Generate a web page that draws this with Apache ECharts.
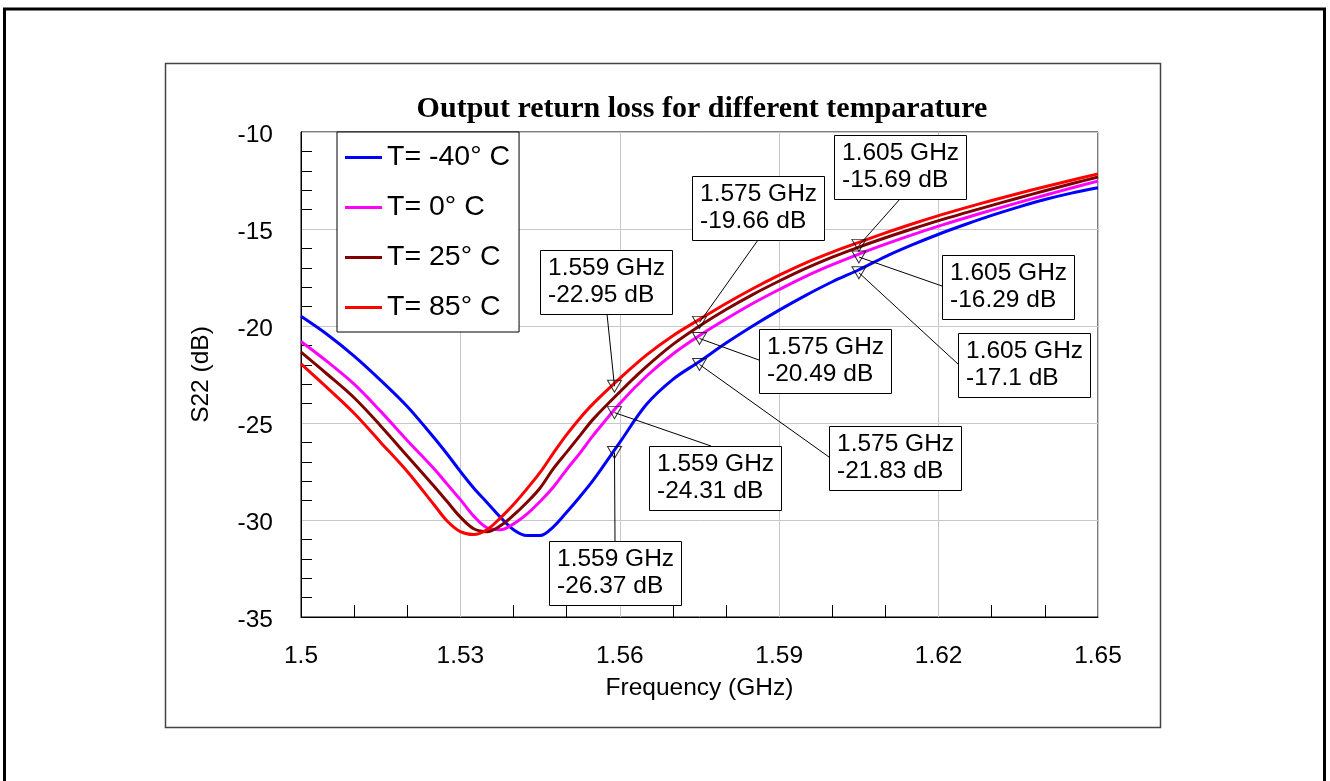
<!DOCTYPE html>
<html><head><meta charset="utf-8">
<script src="https://cdn.jsdelivr.net/npm/echarts@6/dist/echarts.min.js"></script>
<style>html,body{margin:0;padding:0;background:#fff}#c{width:1330px;height:781px}</style>
</head><body><div id="c"></div>
<script>
// ---------- data ----------
const freq = [1.500,1.505,1.510,1.515,1.520,1.525,1.5275,1.530,1.5325,1.535,1.5375,1.540,1.5425,1.545,1.5475,1.550,1.5525,1.555,1.560,1.565,1.570,1.575,1.580,1.585,1.590,1.595,1.600,1.605,1.610,1.615,1.620,1.625,1.630,1.635,1.640,1.645,1.650];
const sM40 = [-19.5,-20.45,-21.55,-22.8,-24.15,-25.75,-26.6,-27.5,-28.35,-29.1,-29.85,-30.5,-30.8,-30.8,-30.35,-29.6,-28.8,-27.95,-26.0,-24.05,-22.75,-21.83,-20.88,-20.0,-19.18,-18.42,-17.72,-17.1,-16.42,-15.82,-15.27,-14.77,-14.3,-13.87,-13.48,-13.15,-12.87];
const s0 = [-20.8,-21.85,-23.0,-24.4,-25.9,-27.35,-28.15,-28.95,-29.8,-30.4,-30.5,-30.2,-29.7,-29.05,-28.3,-27.4,-26.55,-25.64,-23.99,-22.59,-21.44,-20.49,-19.64,-18.84,-18.12,-17.44,-16.84,-16.29,-15.78,-15.3,-14.85,-14.43,-14.03,-13.64,-13.26,-12.89,-12.53];
const s25 = [-21.35,-22.5,-23.7,-25.15,-26.7,-28.25,-29.05,-29.85,-30.45,-30.6,-30.3,-29.75,-29.1,-28.35,-27.35,-26.5,-25.65,-24.8,-23.4,-22.1,-20.95,-20.0,-19.15,-18.38,-17.68,-17.03,-16.45,-15.93,-15.45,-15.0,-14.57,-14.17,-13.78,-13.4,-13.03,-12.67,-12.32];
const s85 = [-21.95,-23.2,-24.5,-26.0,-27.5,-29.2,-30.05,-30.6,-30.75,-30.5,-29.9,-29.2,-28.4,-27.55,-26.55,-25.6,-24.75,-24.0,-22.7,-21.5,-20.5,-19.66,-18.84,-18.08,-17.38,-16.74,-16.19,-15.69,-15.2,-14.74,-14.31,-13.91,-13.53,-13.17,-12.82,-12.49,-12.16];
const seriesNames = ['T= -40° C','T= 0° C','T= 25° C','T= 85° C'];
const xTicks = [1.5,1.53,1.56,1.59,1.62,1.65];
const yTicks = [-35,-30,-25,-20,-15,-10];
const markerFreq = [1.559,1.575,1.605];
const mkM40 = [-26.37,-21.83,-17.1];
const mk0 = [-24.31,-20.49,-16.29];
const mk85 = [-22.95,-19.66,-15.69];
const titleText = 'Output return loss for different temparature';
const xName = 'Frequency (GHz)';
const yName = 'S22 (dB)';

// ---------- layout / style ----------
const colors = ['#0000ff','#ff00ff','#800000','#ff0000'];
const SANS = '"Liberation Sans", Arial, sans-serif';
const FS = 24.5;
// callout boxes: [boxLeft, boxTop, leaderStartX, leaderStartY] per marker
const layM40 = [[549,541,615,541],[829,426,829,457],[958,333,958,364]];
const lay0   = [[649,446,711,446],[759,329,759,360],[942,255,942,286]];
const lay85  = [[540,250,607,314],[692,176,758,240],[834,135,900,199]];

const chart = echarts.init(document.getElementById('c'), null, {renderer:'canvas'});
const pair = (vals) => freq.map((f,i)=>[f, vals[i]]);
const mkPairs = (vals) => markerFreq.map((f,i)=>[f, vals[i]]);
const allSeriesVals = [sM40, s0, s25, s85];

const option = {
  animation:false,
  backgroundColor:'#fff',
  title:{text:titleText, left:702, top:94, textAlign:'center', padding:0,
    textStyle:{fontFamily:'"Liberation Serif", "Times New Roman", serif', fontWeight:'bold', fontSize:30, color:'#000'}},
  legend:{data:seriesNames, orient:'vertical', left:337, top:132,
    backgroundColor:'#fff', borderColor:'#000', borderWidth:1,
    padding:[11,9,10,8], itemGap:21, itemWidth:37, itemHeight:3, icon:'rect',
    textStyle:{fontSize:28.5, fontFamily:SANS, color:'#000', lineHeight:27}},
  grid:{left:301, top:132, right:232, bottom:164, show:true, borderColor:'#000', borderWidth:1, outerBoundsMode:'none', containLabel:false},
  xAxis:{type:'value', min:xTicks[0], max:xTicks[xTicks.length-1],
    interval:Number((xTicks[1]-xTicks[0]).toFixed(4)),
    axisLine:{show:true, lineStyle:{color:'#000', width:1}},
    axisTick:{show:false, inside:true},
    minorTick:{show:true, splitNumber:3, length:12, lineStyle:{color:'#000', width:1}},
    splitLine:{show:true, lineStyle:{color:'#c8c8c8', width:1}},
    minorSplitLine:{show:false},
    axisLabel:{fontSize:FS, fontFamily:SANS, color:'#000', margin:27,
      formatter:(v)=>String(parseFloat(v.toFixed(3)))},
    name:xName, nameLocation:'middle', nameGap:59,
    nameTextStyle:{fontSize:FS, fontFamily:SANS, color:'#000'}},
  yAxis:{type:'value', min:yTicks[0], max:yTicks[yTicks.length-1], interval:yTicks[1]-yTicks[0],
    axisLine:{show:true, lineStyle:{color:'#000', width:1}},
    axisTick:{show:false, inside:true},
    minorTick:{show:true, splitNumber:5, length:11, lineStyle:{color:'#000', width:1}},
    splitLine:{show:true, lineStyle:{color:'#c8c8c8', width:1}},
    minorSplitLine:{show:false},
    axisLabel:{fontSize:FS, fontFamily:SANS, color:'#000', margin:28,
      formatter:(v)=>'{a|'+v+'}',
      rich:{a:{fontSize:FS, fontFamily:SANS, color:'#000', padding:[6,0,0,0]}}},
    name:yName, nameLocation:'middle', nameGap:87, nameRotate:90,
    nameTextStyle:{fontSize:FS, fontFamily:SANS, color:'#000'}},
  series: seriesNames.map((n,k)=>({
    name:n, type:'line', data:pair(allSeriesVals[k]), showSymbol:false, smooth:0.35,
    color:colors[k], lineStyle:{width:3, color:colors[k]}, z:2
  })).concat([{
    name:'markers', type:'scatter', z:5,
    data: mkPairs(mkM40).concat(mkPairs(mk0), mkPairs(mk85)),
    symbol:'triangle', symbolRotate:180, symbolSize:[14,12], symbolOffset:[0,3],
    itemStyle:{color:'rgba(0,0,0,0)', borderColor:'#000', borderWidth:1},
    silent:true
  }])
};
chart.setOption(option);

// ---------- callouts & frames ----------
const graphics = [
  {type:'rect', z:1, shape:{x:4.5,y:9,width:1320,height:800}, style:{fill:'none', stroke:'#000', lineWidth:3}},
  {type:'rect', z:1, shape:{x:165.5,y:63.5,width:995,height:664}, style:{fill:'none', stroke:'#444', lineWidth:1.5}}
];
const sets = [[mkM40, layM40],[mk0, lay0],[mk85, lay85]];
sets.forEach(([vals, lay])=>{
  vals.forEach((v,i)=>{
    const f = markerFreq[i];
    const p = chart.convertToPixel({gridIndex:0}, [f, v]);
    const [bx, by, ax, ay] = lay[i];
    graphics.push({type:'line', z:20, shape:{x1:ax, y1:ay, x2:p[0], y2:p[1]+3}, style:{stroke:'#000', lineWidth:1}});
    graphics.push({type:'rect', z:21, shape:{x:bx+0.5, y:by+0.5, width:132, height:64}, style:{fill:'#fff', stroke:'#000', lineWidth:1}});
    graphics.push({type:'text', z:22, x:bx+8, y:by+5, style:{text:f.toFixed(3)+' GHz\n'+String(v)+' dB',
      fontSize:FS, fontFamily:SANS, fill:'#000', lineHeight:27, align:'left', verticalAlign:'top'}});
  });
});
chart.setOption({graphic:graphics});
</script></body></html>
